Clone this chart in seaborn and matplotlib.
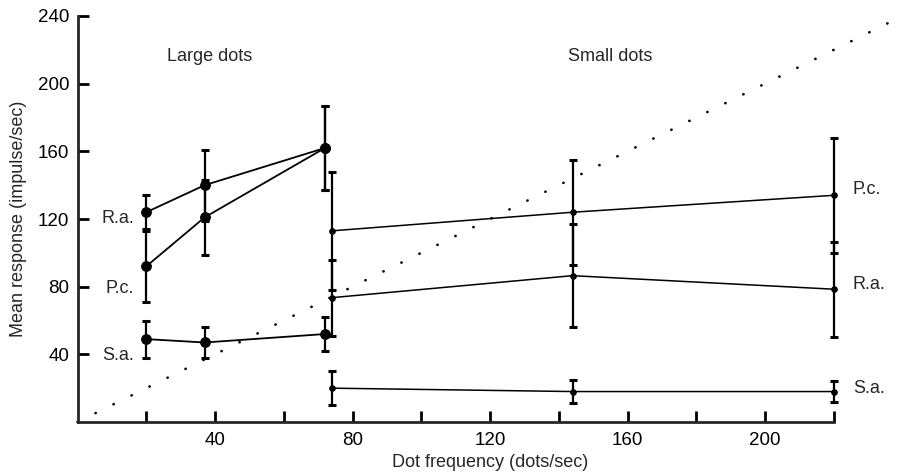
import matplotlib
matplotlib.use("Agg")
import matplotlib.pyplot as plt
import seaborn as sns
import pandas as pd

# ---- data ----
large_x = [20, 37, 72]
large_ra = [124, 140, 162]
large_ra_err = [10, 21, 25]
large_pc = [92, 121, 162]
large_pc_err = [21, 22, 25]
large_sa = [49, 47, 52]
large_sa_err = [11, 9, 10]

small_x = [74, 144, 220]
small_pc = [113, 124, 134]
small_pc_err = [35, 31, 34]
small_ra = [73.5, 86.5, 78.5]
small_ra_err = [22.5, 30.5, 28]
small_sa = [20, 18, 18]
small_sa_err = [10, 7, 6]

diag_x = [0, 240]
diag_y = [0, 240]

y_ticks = [40, 80, 120, 160, 200, 240]
x_ticks = [20, 40, 60, 80, 100, 120, 140, 160, 180, 200, 220]
x_tick_labels = ["", "40", "", "80", "", "120", "", "160", "", "200", ""]

sns.set_theme(style="ticks")
plt.rcParams['font.family'] = ['Liberation Sans', 'DejaVu Sans']

rows = []
for name, xs, ys, es, size in [
    ("R.a. large", large_x, large_ra, large_ra_err, "large"),
    ("P.c. large", large_x, large_pc, large_pc_err, "large"),
    ("S.a. large", large_x, large_sa, large_sa_err, "large"),
    ("P.c. small", small_x, small_pc, small_pc_err, "small"),
    ("R.a. small", small_x, small_ra, small_ra_err, "small"),
    ("S.a. small", small_x, small_sa, small_sa_err, "small"),
]:
    for x, y, e in zip(xs, ys, es):
        rows.append(dict(series=name, x=x, y=y, err=e, size=size))
df = pd.DataFrame(rows)

fig = plt.figure(figsize=(9.08, 4.76), dpi=100)
ax = fig.add_axes([77.5 / 908, 54 / 476, 825 / 908, 406 / 476])

# diagonal dotted line
ax.plot(diag_x, diag_y, color="black", lw=1.9, dashes=(0.1, 7.5),
        dash_capstyle="round", clip_on=False, zorder=1)

for size, ms, lw in [("large", 7, 1.3), ("small", 4, 1.1)]:
    sub = df[df["size"] == size]
    sns.lineplot(data=sub, x="x", y="y", units="series", estimator=None,
                 color="black", lw=lw, marker="o", markersize=ms,
                 markeredgecolor="black", ax=ax, legend=False, zorder=3)
    for _, g in sub.groupby("series"):
        ax.errorbar(g["x"], g["y"], yerr=g["err"], fmt="none", ecolor="black",
                    elinewidth=1.6, capsize=2.6, capthick=2.2, zorder=3)

fs = 13
tfs = 13.5
# series labels
ax.text(16.4, 120.5, "R.a.", ha="right", va="center", fontsize=fs)
ax.text(16.4, 79, "P.c.", ha="right", va="center", fontsize=fs)
ax.text(16.4, 39.6, "S.a.", ha="right", va="center", fontsize=fs)
ax.text(225.6, 137.7, "P.c.", ha="left", va="center", fontsize=fs)
ax.text(225.6, 81.5, "R.a.", ha="left", va="center", fontsize=fs)
ax.text(225.6, 19.9, "S.a.", ha="left", va="center", fontsize=fs)
ax.text(38.5, 216, "Large dots", ha="center", va="center", fontsize=fs)
ax.text(155, 216, "Small dots", ha="center", va="center", fontsize=fs)

ax.set_xlim(0, 240)
ax.set_ylim(0, 240)
ax.set_yticks(y_ticks)
ax.set_xticks(x_ticks)
ax.set_xticklabels(x_tick_labels)
ax.tick_params(axis="both", direction="in", length=8, width=2.0,
               labelsize=tfs, colors="black")
ax.tick_params(axis="y", pad=6)
ax.tick_params(axis="x", pad=7)
for s in ["top", "right"]:
    ax.spines[s].set_visible(False)
ax.spines["left"].set_linewidth(2.0)
ax.spines["bottom"].set_linewidth(2.0)
ax.spines["bottom"].set_bounds(0, 220)
ax.spines["left"].set_bounds(0, 240)
ax.set_xlabel("Dot frequency (dots/sec)", fontsize=fs, labelpad=4)
ax.set_ylabel("Mean response (impulse/sec)", fontsize=fs, labelpad=8)
ax.patch.set_alpha(0)

fig.savefig("out.png", dpi=100)
